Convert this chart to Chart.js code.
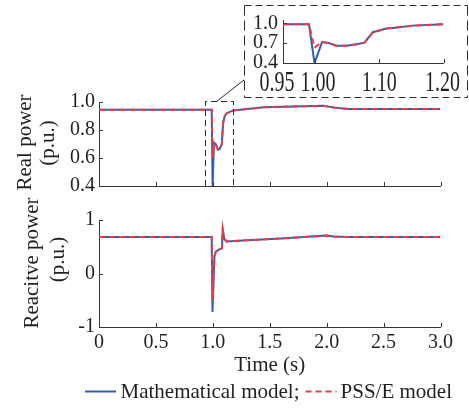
<!DOCTYPE html>
<html>
<head>
<meta charset="utf-8">
<script src="https://cdn.jsdelivr.net/npm/chart.js@4/dist/chart.umd.min.js"></script>
<style>
html,body{margin:0;padding:0;background:#fff;}
#wrap{position:relative;width:469px;height:409px;overflow:hidden;background:#fff;}
#wrap canvas{position:absolute;left:0;top:0;}
</style>
</head>
<body>
<div id="wrap">
<canvas id="cTop" width="469" height="409" style="width:469px;height:409px"></canvas>
<canvas id="cBot" width="469" height="409" style="width:469px;height:409px"></canvas>
<canvas id="cIns" width="469" height="409" style="width:469px;height:409px"></canvas>
</div>
<script>
// ---------- data ----------
const seriesNames = ['Mathematical model', 'PSS/E model'];

// Real power (top panel)
const timeReal = [0, 0.99, 0.998, 1.01, 1.026, 1.044, 1.06, 1.079, 1.09, 1.105, 1.123, 1.18, 1.45, 1.97, 2.08, 2.2, 3.0];
const realMath = [0.945, 0.945, 0.40, 0.71, 0.70, 0.66, 0.665, 0.70, 0.85, 0.90, 0.92, 0.94, 0.963, 0.973, 0.958, 0.95, 0.95];
const realPSSE = [0.945, 0.945, 0.60, 0.71, 0.70, 0.66, 0.665, 0.70, 0.85, 0.90, 0.92, 0.94, 0.963, 0.973, 0.958, 0.95, 0.95];

// Reactive power (bottom panel)
const timeReac = [0, 0.99, 0.997, 1.014, 1.026, 1.065, 1.08, 1.087, 1.10, 1.12, 1.3, 1.6, 2.0, 2.06, 2.18, 3.0];
const reacMath = [0.68, 0.68, -0.72, 0.32, 0.41, 0.46, 0.47, 0.82, 0.65, 0.60, 0.62, 0.655, 0.71, 0.69, 0.68, 0.68];
const reacPSSE = [0.68, 0.68, -0.50, 0.32, 0.41, 0.46, 0.47, 0.82, 0.65, 0.60, 0.62, 0.655, 0.71, 0.69, 0.68, 0.68];

// Zoomed inset of real power
const timeInset = [0.95, 0.9905, 0.999, 1.011, 1.022, 1.033, 1.049, 1.065, 1.077, 1.09, 1.111, 1.121, 1.152, 1.2];
const insetMath = [0.985, 0.985, 0.40, 0.72, 0.70, 0.662, 0.662, 0.685, 0.708, 0.865, 0.92, 0.93, 0.965, 0.986];
const insetPSSE = [0.985, 0.985, 0.632, 0.72, 0.70, 0.662, 0.662, 0.685, 0.708, 0.865, 0.92, 0.93, 0.965, 0.986];

// tick labels
const realTicks = [0.4, 0.6, 0.8, 1.0];
const reacTicks = [-1, 0, 1];
const timeTicks = [0, 0.5, 1.0, 1.5, 2.0, 2.5, 3.0];
const insetXTicks = [0.95, 1.00, 1.10, 1.20];
const insetYTicks = [0.4, 0.7, 1.0];
const zoomWindow = [0.933, 1.18];

// ---------- styles ----------
const BLUE = '#2f5fb5';
const RED = '#f23a43';
const AXIS = '#3a3536';
const TXT = '#231f20';
const FONT = "'Liberation Serif','Times New Roman',serif";
Chart.defaults.font.family = FONT;
Chart.defaults.color = TXT;

const pts = (xs, ys) => xs.map((x, i) => ({x: x, y: ys[i]}));
function makeSets(xs, a, b) {
  return [
    {label: seriesNames[0], data: pts(xs, a), borderColor: BLUE, borderWidth: 2, pointRadius: 0, tension: 0, order: 2},
    {label: seriesNames[1], data: pts(xs, b), borderColor: RED, borderWidth: 2, borderDash: [6, 4], pointRadius: 0, tension: 0, order: 1}
  ];
}
function fixTicks(list) { return function (s) { s.ticks = list.map(v => ({value: v})); }; }

const tickPlugin = {
  id: 'inTicks',
  afterDraw(chart) {
    const {ctx, chartArea: a, scales: {x, y}} = chart;
    ctx.save();
    ctx.strokeStyle = AXIS; ctx.lineWidth = 1;
    ctx.beginPath();
    x.ticks.forEach(t => { const p = Math.round(x.getPixelForValue(t.value)) + 0.5; ctx.moveTo(p, a.bottom); ctx.lineTo(p, a.bottom - 4); });
    y.ticks.forEach(t => { const p = Math.round(y.getPixelForValue(t.value)) + 0.5; ctx.moveTo(a.left, p); ctx.lineTo(a.left + 4, p); });
    ctx.stroke();
    ctx.restore();
  }
};

function vText(ctx, text, cx, cy) {
  ctx.save();
  ctx.translate(cx, cy);
  ctx.rotate(-Math.PI / 2);
  ctx.textAlign = 'center';
  ctx.textBaseline = 'middle';
  ctx.fillText(text, 0, 0);
  ctx.restore();
}

const topDecor = {
  id: 'topDecor',
  afterDraw(chart) {
    const {ctx, chartArea: a, scales: {x, y}} = chart;
    ctx.save();
    ctx.fillStyle = TXT;
    ctx.font = '21px ' + FONT;
    vText(ctx, 'Real power', 25, 142.5);
    vText(ctx, '(p.u.)', 48.5, 143);
    // dashed zoom rectangle
    const x0 = Math.round(x.getPixelForValue(zoomWindow[0])) + 0.5;
    const x1 = Math.round(x.getPixelForValue(zoomWindow[1])) + 0.5;
    const yt = Math.round(a.top) - 0.5;
    const yb = a.bottom;
    ctx.strokeStyle = '#2a2a2a'; ctx.lineWidth = 1;
    ctx.setLineDash([6, 4]);
    ctx.beginPath();
    ctx.moveTo(x0, yb); ctx.lineTo(x0, yt); ctx.lineTo(x1, yt); ctx.lineTo(x1, yb);
    ctx.stroke();
    ctx.setLineDash([]);
    // connector
    ctx.beginPath();
    ctx.moveTo((x0 + x1) / 2 - 3, yt);
    ctx.lineTo(244, 80);
    ctx.stroke();
    ctx.restore();
  }
};

const botDecor = {
  id: 'botDecor',
  afterDraw(chart) {
    const {ctx, chartArea: a} = chart;
    ctx.save();
    ctx.fillStyle = TXT;
    ctx.font = '21px ' + FONT;
    vText(ctx, 'Reacitve power', 32.5, 263);
    vText(ctx, '(p.u.)', 58, 259.5);
    ctx.textAlign = 'center';
    ctx.textBaseline = 'alphabetic';
    ctx.fillText('Time (s)', (a.left + a.right) / 2, 370.5);
    // legend
    ctx.textAlign = 'left';
    const ly = 391.5, by = 398;
    let cx = 85;
    ctx.lineWidth = 2;
    ctx.strokeStyle = BLUE;
    ctx.beginPath(); ctx.moveTo(cx, ly); ctx.lineTo(cx + 31, ly); ctx.stroke();
    cx += 35.5;
    const t1 = seriesNames[0] + ';';
    ctx.fillText(t1, cx, by);
    cx += ctx.measureText(t1).width + 6;
    ctx.strokeStyle = RED;
    ctx.setLineDash([6, 4]);
    ctx.beginPath(); ctx.moveTo(cx, ly); ctx.lineTo(cx + 31, ly); ctx.stroke();
    ctx.setLineDash([]);
    cx += 35;
    ctx.fillText(seriesNames[1], cx, by);
    ctx.restore();
  }
};

const insDecor = {
  id: 'insDecor',
  beforeDraw(chart) {
    const ctx = chart.ctx;
    ctx.save();
    ctx.strokeStyle = '#2a2a2a'; ctx.lineWidth = 1;
    const L = 244.5, R = 467.5, T = 5.5, B = 97.5;
    ctx.setLineDash([7, 4]);
    ctx.beginPath(); ctx.moveTo(L, T); ctx.lineTo(R, T); ctx.moveTo(L, B); ctx.lineTo(R, B); ctx.stroke();
    ctx.setLineDash([10, 5]);
    ctx.beginPath(); ctx.moveTo(L, T); ctx.lineTo(L, B); ctx.moveTo(R, T); ctx.lineTo(R, B); ctx.stroke();
    ctx.restore();
  },
  afterDraw(chart) {
    const {ctx, scales: {x}} = chart;
    const nudge = [-6, 3, 0, -1];
    ctx.save();
    ctx.fillStyle = TXT;
    ctx.font = '20px ' + FONT;
    ctx.textAlign = 'center';
    ctx.textBaseline = 'alphabetic';
    insetXTicks.forEach((v, i) => {
      ctx.save();
      ctx.translate(x.getPixelForValue(v) + nudge[i], 90.5);
      ctx.scale(1, 1.5);
      ctx.fillText(v.toFixed(2), 0, 0);
      ctx.restore();
    });
    ctx.restore();
  }
};

const common = {responsive: false, animation: false, devicePixelRatio: 1,
  plugins: {legend: {display: false}, tooltip: {enabled: false}}};
const axisBase = {grid: {display: false, drawTicks: false}, border: {display: true, color: AXIS, width: 1}};

new Chart(document.getElementById('cTop'), {
  type: 'line',
  data: {datasets: makeSets(timeReal, realMath, realPSSE)},
  options: Object.assign({}, common, {
    layout: {padding: {top: 102, right: 28.5, bottom: 223, left: 0}},
    scales: {
      x: Object.assign({}, axisBase, {type: 'linear', min: 0, max: 3, ticks: {display: false},
        afterBuildTicks: fixTicks(timeTicks), afterFit(s) { s.height = 0; }}),
      y: Object.assign({}, axisBase, {type: 'linear', min: 0.4, max: 1.0,
        ticks: {padding: 4, font: {size: 20}, autoSkip: false, callback: v => Number(v).toFixed(1)},
        afterBuildTicks: fixTicks(realTicks), afterFit(s) { s.width = 99; }})
    }
  }),
  plugins: [tickPlugin, topDecor]
});

new Chart(document.getElementById('cBot'), {
  type: 'line',
  data: {datasets: makeSets(timeReac, reacMath, reacPSSE)},
  options: Object.assign({}, common, {
    layout: {padding: {top: 220, right: 28.5, bottom: 0, left: 0}},
    scales: {
      x: Object.assign({}, axisBase, {type: 'linear', min: 0, max: 3,
        ticks: {padding: 4, font: {size: 20}, maxRotation: 0, autoSkip: false,
          callback: v => (v === 0 ? '0' : Number(v).toFixed(1))},
        afterBuildTicks: fixTicks(timeTicks), afterFit(s) { s.height = 82; }}),
      y: Object.assign({}, axisBase, {type: 'linear', min: -1, max: 1,
        ticks: {padding: 4, font: {size: 20}, autoSkip: false, callback: v => String(v)},
        afterBuildTicks: fixTicks(reacTicks), afterFit(s) { s.width = 99; }})
    }
  }),
  plugins: [tickPlugin, botDecor]
});

new Chart(document.getElementById('cIns'), {
  type: 'line',
  data: {datasets: makeSets(timeInset, insetMath, insetPSSE)},
  options: Object.assign({}, common, {
    layout: {padding: {top: 20, right: 25.5, bottom: 346, left: 243}},
    scales: {
      x: Object.assign({}, axisBase, {type: 'linear', min: 0.95, max: 1.2, ticks: {display: false},
        afterBuildTicks: fixTicks(insetXTicks), afterFit(s) { s.height = 0; }}),
      y: Object.assign({}, axisBase, {type: 'linear', min: 0.4, max: 1.05,
        ticks: {padding: 5, font: {size: 20}, autoSkip: false, callback: v => Number(v).toFixed(1)},
        afterBuildTicks: fixTicks(insetYTicks), afterFit(s) { s.width = 40; }})
    }
  }),
  plugins: [tickPlugin, insDecor]
});
</script>
</body>
</html>
